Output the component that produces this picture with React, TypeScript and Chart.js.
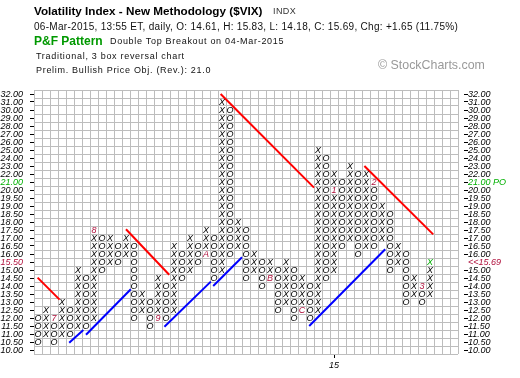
import React, { useEffect, useRef } from 'react';
import { Chart, registerables } from 'chart.js';

Chart.register(...registerables);

// ---- Data ----
// Box levels (index 0 = 10.00 ... index 32 = 32.00)
const priceLabels = [
  '10.00', '10.50', '11.00', '11.50', '12.00', '12.50', '13.00', '13.50', '14.00', '14.50',
  '15.00', '15.50', '16.00', '16.50', '17.00', '17.50', '18.00', '18.50', '19.00', '19.50',
  '20.00', '21.00', '22.00', '23.00', '24.00', '25.00', '26.00', '27.00', '28.00', '29.00',
  '30.00', '31.00', '32.00',
];
const rightLabels = [
  '10.00', '10.50', '11.00', '11.50', '12.00', '12.50', '13.00', '13.50', '14.00', '14.50',
  '15.00', '<<15.69', '16.00', '16.50', '17.00', '17.50', '18.00', '18.50', '19.00', '19.50',
  '20.00', '21.00 PO', '22.00', '23.00', '24.00', '25.00', '26.00', '27.00', '28.00', '29.00',
  '30.00', '31.00', '32.00',
];

// Columns: type, lowest box index, highest box index
const colType = [
  'O', 'X', 'O', 'X', 'O', 'X', 'O', 'X', 'O', 'X',
  'O', 'X', 'O', 'X', 'O', 'X', 'O', 'X', 'O', 'X',
  'O', 'X', 'O', 'X', 'O', 'X', 'O', 'X', 'O', 'X',
  'O', 'X', 'O', 'X', 'O', 'X', 'O', 'X', 'O', 'X',
  'O', 'X', 'O', 'X', 'O', 'X', 'O', 'X', 'O', 'X',
];
const colLow = [
  1, 2, 1, 2, 2, 3, 3, 4, 10, 11,
  11, 12, 4, 5, 3, 4, 4, 5, 9, 10,
  11, 12, 9, 10, 12, 13, 9, 10, 8, 9,
  5, 6, 4, 5, 4, 5, 9, 10, 13, 14,
  12, 13, 13, 14, 10, 11, 6, 7, 6, 7,
];
const colHigh = [
  4, 5, 4, 6, 5, 10, 9, 15, 14, 14,
  13, 14, 13, 7, 6, 9, 8, 13, 12, 14,
  13, 15, 14, 31, 30, 16, 15, 12, 11, 11,
  10, 11, 10, 9, 8, 25, 24, 22, 21, 23,
  22, 22, 21, 18, 17, 13, 12, 9, 8, 11,
];

// Month markers
const markerCol = [2, 7, 15, 21, 29, 33, 37, 42, 48];
const markerRow = [4, 15, 4, 12, 9, 5, 20, 21, 8];
const markerText = ['7', '8', '9', 'A', 'B', 'C', '1', '2', '3'];

// Latest box
const lastCol = 49;
const lastRow = 11;

// Year label
const yearCols = [37];
const yearText = ['15'];

// Trend lines [x1, y1, x2, y2] in column / box units
const redLines = [
  [-0.05, 9.05, 2.7, 6.3],
  [11.0, 15.1, 16.4, 9.4],
  [22.83, 32.0, 34.5, 20.3],
  [40.8, 23.0, 49.4, 14.45],
];
const blueLines = [
  [3.9, 0.92, 5.67, 2.5],
  [6.0, 1.9, 11.6, 7.6],
  [15.8, 2.9, 21.6, 8.55],
  [21.9, 8.0, 25.5, 11.6],
  [33.9, 3.0, 43.4, 12.6],
];

const NCOLS = 53;
const NROWS = 33;

const FONT = '"Liberation Sans", Arial, sans-serif';
const CRIMSON = '#b0103c';
const GREEN = '#00b000';

function buildBoxes() {
  const pts: any[] = [];
  for (let c = 0; c < colType.length; c++) {
    for (let r = colLow[c]; r <= colHigh[c]; r++) {
      let g = colType[c];
      let color = '#000';
      const mi = markerCol.findIndex((mc, k) => mc === c && markerRow[k] === r);
      if (mi >= 0) {
        g = markerText[mi];
        color = CRIMSON;
      }
      if (c === lastCol && r === lastRow) color = GREEN;
      pts.push({ x: c, y: r, g, color });
    }
  }
  return pts;
}

const glyphPlugin = {
  id: 'pfGlyphs',
  afterDatasetsDraw(chart: any) {
    const ctx = chart.ctx;
    const ds = chart.data.datasets[0];
    const meta = chart.getDatasetMeta(0);
    ctx.save();
    ctx.font = 'italic 9px ' + FONT;
    ctx.textAlign = 'center';
    ctx.textBaseline = 'middle';
    meta.data.forEach((el: any, i: number) => {
      const p = ds.data[i];
      ctx.fillStyle = p.color;
      ctx.fillText(p.g, el.x, el.y + 0.5);
    });
    ctx.restore();
  },
};

function halfTicks(n: number) {
  const t: any[] = [];
  for (let i = 0; i <= n; i++) t.push({ value: i - 0.5 });
  return t;
}
function intTicks(n: number) {
  const t: any[] = [];
  for (let i = 0; i < n; i++) t.push({ value: i });
  return t;
}

function labelColor(ctx: any) {
  const v = ctx.tick ? ctx.tick.value : -1;
  if (v === 11) return CRIMSON;
  if (v === 21) return GREEN;
  return '#000';
}

export default function App() {
  const ref = useRef<HTMLCanvasElement | null>(null);

  useEffect(() => {
    if (!ref.current) return;
    const lineSets = [
      ...redLines.map((l) => ({ l, color: '#ff0000' })),
      ...blueLines.map((l) => ({ l, color: '#0000ff' })),
    ].map(({ l, color }) => ({
      data: [{ x: l[0], y: l[1] }, { x: l[2], y: l[3] }],
      showLine: true,
      borderColor: color,
      backgroundColor: color,
      borderWidth: 2,
      pointRadius: 0,
      pointHoverRadius: 0,
      xAxisID: 'x',
      yAxisID: 'y',
    }));

    const chart = new Chart(ref.current, {
      type: 'scatter',
      data: {
        datasets: [
          {
            data: buildBoxes(),
            pointRadius: 0,
            pointHoverRadius: 0,
            xAxisID: 'x',
            yAxisID: 'y',
          } as any,
          ...lineSets,
        ],
      },
      options: {
        animation: false,
        responsive: false,
        events: [],
        layout: { padding: { top: 90, left: 0, right: 0, bottom: 0 } },
        plugins: { legend: { display: false }, tooltip: { enabled: false } },
        scales: {
          x: {
            type: 'linear',
            position: 'bottom',
            min: -0.5,
            max: NCOLS - 0.5,
            afterBuildTicks: (a: any) => { a.ticks = halfTicks(NCOLS); },
            ticks: { display: false, autoSkip: false },
            grid: { color: '#bdbdbd', drawTicks: false, lineWidth: 1 },
            border: { display: false },
            afterFit: (s: any) => { s.height = 0; },
          },
          xYear: {
            type: 'linear',
            position: 'bottom',
            min: -0.5,
            max: NCOLS - 0.5,
            afterBuildTicks: (a: any) => { a.ticks = yearCols.map((v) => ({ value: v })); },
            ticks: {
              autoSkip: false,
              maxRotation: 0,
              padding: 2,
              color: '#000',
              font: { size: 9, style: 'italic', family: FONT },
              callback: (v: any) => yearText[yearCols.indexOf(v)],
            },
            grid: { drawOnChartArea: false, tickLength: 4, tickColor: '#000' },
            border: { display: false },
            afterFit: (s: any) => { s.height = 24; },
          },
          y: {
            type: 'linear',
            position: 'left',
            min: -0.5,
            max: NROWS - 0.5,
            afterBuildTicks: (a: any) => { a.ticks = halfTicks(NROWS); },
            ticks: { display: false, autoSkip: false },
            grid: { color: '#bdbdbd', drawTicks: false, lineWidth: 1 },
            border: { display: false },
            afterFit: (s: any) => { s.width = 0; },
          },
          yL: {
            type: 'linear',
            position: 'left',
            min: -0.5,
            max: NROWS - 0.5,
            afterBuildTicks: (a: any) => { a.ticks = intTicks(NROWS); },
            ticks: {
              autoSkip: false,
              padding: 7,
              color: labelColor,
              font: { size: 9, style: 'italic', family: FONT },
              callback: (v: any) => priceLabels[v],
            },
            grid: { drawOnChartArea: false, tickLength: 4, tickColor: '#000' },
            border: { display: false },
            afterFit: (s: any) => { s.width = 34; },
          },
          yR: {
            type: 'linear',
            position: 'right',
            min: -0.5,
            max: NROWS - 0.5,
            afterBuildTicks: (a: any) => { a.ticks = intTicks(NROWS); },
            ticks: {
              autoSkip: false,
              padding: 0,
              color: labelColor,
              font: { size: 9, style: 'italic', family: FONT },
              callback: (v: any) => rightLabels[v],
            },
            grid: {
              drawOnChartArea: false,
              tickLength: 10,
              tickColor: (ctx: any) => (ctx.tick && ctx.tick.value === 11 ? 'rgba(0,0,0,0)' : '#000'),
              tickBorderDash: [4, 6],
              tickBorderDashOffset: 4,
            },
            border: { display: false },
            afterFit: (s: any) => { s.width = 62; },
          },
        },
      } as any,
      plugins: [glyphPlugin],
    });
    return () => chart.destroy();
  }, []);

  const base: React.CSSProperties = {
    position: 'absolute',
    whiteSpace: 'nowrap',
    lineHeight: 1,
    fontFamily: FONT,
    margin: 0,
  };

  return (
    <div style={{ position: 'fixed', left: 0, top: 0, width: 520, height: 378, background: '#fff', overflow: 'hidden' }}>
      <canvas ref={ref} width={520} height={378} style={{ position: 'absolute', left: 0, top: 0, width: 520, height: 378 }} />
      <div style={{ ...base, left: 34, top: 5.1, fontSize: 11.7, fontWeight: 'bold', color: '#000' }}>
        Volatility Index - New Methodology ($VIX)
      </div>
      <div style={{ ...base, left: 273, top: 7.4, fontSize: 9, letterSpacing: 0.4, color: '#333' }}>INDX</div>
      <div style={{ ...base, left: 34, top: 21.5, fontSize: 10, letterSpacing: 0.3, color: '#111' }}>
        06-Mar-2015, 13:55 ET, daily, O: 14.61, H: 15.83, L: 14.18, C: 15.69, Chg: +1.65 (11.75%)
      </div>
      <div style={{ ...base, left: 34, top: 34.8, fontSize: 12, fontWeight: 'bold', color: '#009900' }}>P&amp;F Pattern</div>
      <div style={{ ...base, left: 110, top: 37.4, fontSize: 9, letterSpacing: 0.7, color: '#111' }}>
        Double Top Breakout on 04-Mar-2015
      </div>
      <div style={{ ...base, left: 36, top: 51.7, fontSize: 9, letterSpacing: 0.7, color: '#111' }}>
        Traditional, 3 box reversal chart
      </div>
      <div style={{ ...base, left: 36, top: 66.4, fontSize: 9, letterSpacing: 0.7, color: '#111' }}>
        Prelim. Bullish Price Obj. (Rev.): 21.0
      </div>
      <div style={{ ...base, left: 378, top: 58.8, fontSize: 12.4, color: '#999' }}>
        {'\u00a9 StockCharts.com'}
      </div>
    </div>
  );
}
